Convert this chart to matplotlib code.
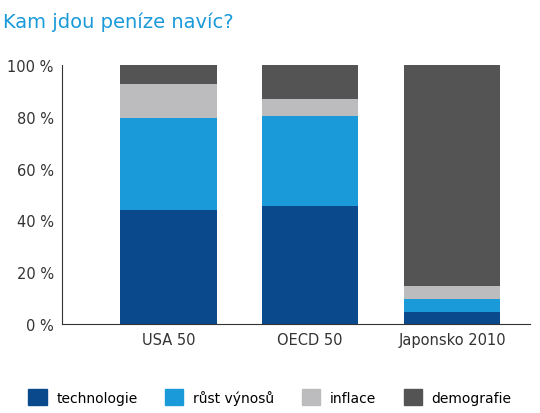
import matplotlib
matplotlib.use("Agg")
import matplotlib.pyplot as plt
from matplotlib.patches import Patch

categories = ["USA 50", "OECD 50", "Japonsko 2010"]
series = ["technologie", "růst výnosů", "inflace", "demografie"]
technologie = [44, 45.5, 4.5]
rust = [35.5, 35, 5]
inflace = [13, 6.5, 5]
demografie = [7.5, 13, 85.5]
colors = ["#0a4a8c", "#1a9ad9", "#bcbcbe", "#545454"]
yticks = [0, 20, 40, 60, 80, 100]

fig = plt.figure(figsize=(5.4, 4.14), dpi=100)
ax = fig.add_axes([62/540, 1-325/414, 468/540, 259/414])
x = range(len(categories))
bottom = [0, 0, 0]
for vals, c in zip([technologie, rust, inflace, demografie], colors):
    ax.bar(x, vals, bottom=bottom, color=c, width=0.68)
    bottom = [b + v for b, v in zip(bottom, vals)]
ax.set_xlim(-0.75, 2.55)
ax.set_ylim(0, 100)
ax.set_yticks(yticks)
ax.set_yticklabels([f"{t} %" for t in yticks], fontsize=10.5, color="#333333")
ax.set_xticks(list(x))
ax.set_xticklabels(categories, fontsize=10.5, color="#333333")
ax.tick_params(length=0, pad=6)
for s in ["top", "right"]:
    ax.spines[s].set_visible(False)
for s in ["left", "bottom"]:
    ax.spines[s].set_color("#333333")
fig.text(0.005, 0.97, "Kam jdou peníze navíc?", fontsize=14, color="#1a9ad9", va="top")
handles = [Patch(color=c) for c in colors]
fig.legend(handles, series, loc="lower center", bbox_to_anchor=(0.5, -0.01), ncol=4,
           frameon=False, fontsize=10, handlelength=1.3, handleheight=1.3,
           columnspacing=2.0, handletextpad=0.7)
fig.savefig("out.png", dpi=100)
